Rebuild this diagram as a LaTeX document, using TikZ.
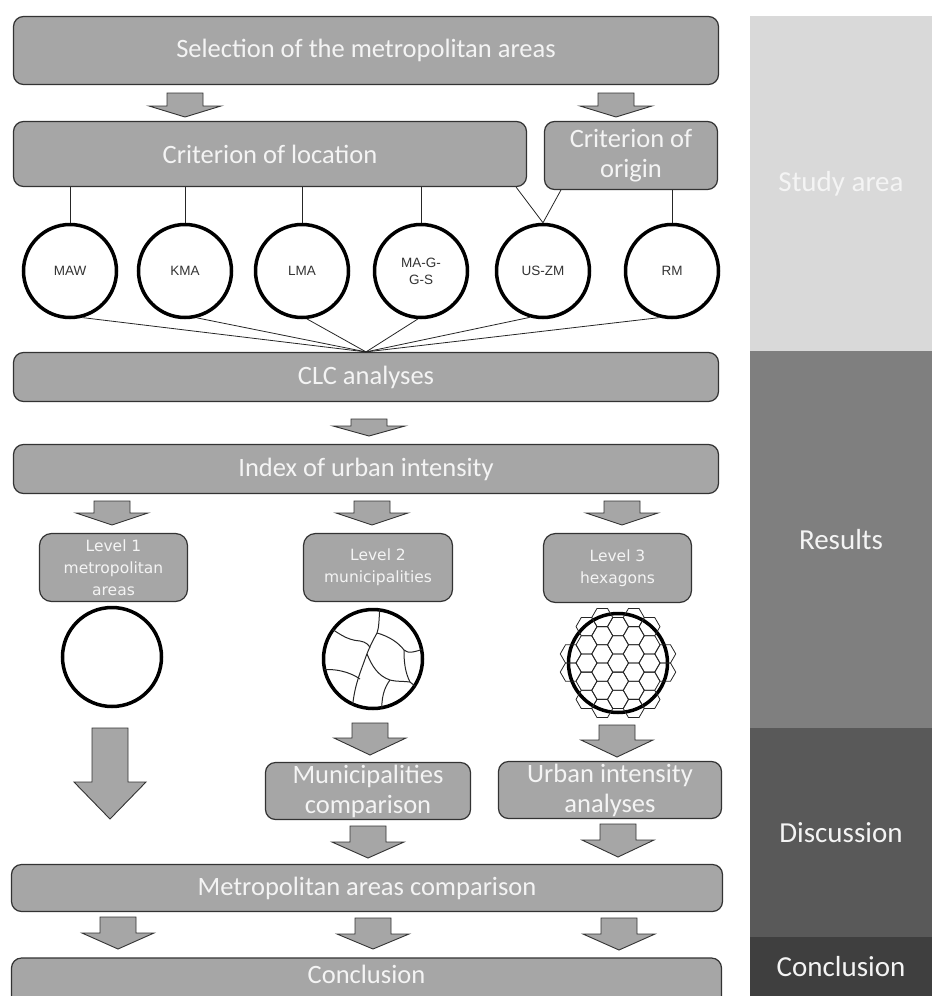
\documentclass[tikz,border=0pt]{standalone}
\usepackage{fontspec}
\setmainfont{Carlito}
\newfontfamily\circfont{Liberation Sans}
\newfontfamily\levelfont{DejaVu Sans}
\usepackage{xcolor}
\usepackage{tikz}
\usetikzlibrary{calc}

\definecolor{boxgray}{HTML}{A6A6A6}
\definecolor{boxtext}{HTML}{F4F4F4}
\definecolor{edgegray}{HTML}{333333}
\definecolor{studygray}{HTML}{D9D9D9}
\definecolor{resultsgray}{HTML}{7F7F7F}
\definecolor{discgray}{HTML}{595959}
\definecolor{conclgray}{HTML}{3F3F3F}

\tikzset{
  stagebox/.style={draw=edgegray, line width=1.2pt, fill=boxgray, rounded corners=10pt,
    text=boxtext, inner sep=0pt, align=center, font=\fontsize{26.5}{30}\selectfont},
  levelbox/.style={stagebox, rounded corners=12pt, font=\levelfont\fontsize{15.5}{22}\selectfont},
  areacircle/.style={circle, draw=black, line width=3.5pt, minimum size=93pt, inner sep=0pt,
    align=center, font=\circfont\fontsize{13.5}{17}\selectfont, text=black!80},
  levelcircle/.style={circle, draw=black, line width=3.5pt, minimum size=99pt, inner sep=0pt},
  phase/.style={inner sep=0pt, text=boxtext, minimum width=182pt, font=\fontsize{29}{32}\selectfont},
  arrowbody/.style={draw=edgegray, line width=0.9pt, fill=boxgray},
  thinline/.style={line width=0.8pt, draw=black!85},
  cellline/.style={line width=1pt, draw=black!85},
  pics/fatarrow/.style 2 args={code={
    \draw[arrowbody] (-18,0) -- (18,0) -- (18,#1) -- (36,#1) -- (0,#2) -- (-36,#1) -- (-18,#1) -- cycle;
  }},
}

\begin{document}
\begin{tikzpicture}[x=1pt, y=-1pt]
    \useasboundingbox (0,0) rectangle (932,996);
    \clip (0,0) rectangle (932,996);

    % phases on the right
    \node[phase, fill=studygray, minimum height=335pt] (study) at (841,183.5) {Study area};
    \node[phase, fill=resultsgray, minimum height=377pt] (results) at (841,539.5) {Results};
    \node[phase, fill=discgray, minimum height=209pt] (discussion) at (841,832.5) {Discussion};
    \node[phase, fill=conclgray, minimum height=59pt] (conclusion) at (841,966.5) {Conclusion};

    % study area
    \node[stagebox, minimum width=705pt, minimum height=68pt] (sel) at (366,50.5) {Selection of the metropolitan areas};
    \pic at (185,93) {fatarrow={13}{24}};
    \pic at (616,93) {fatarrow={13}{24}};
    \node[stagebox, minimum width=513pt, minimum height=65pt] (loc) at (270,154) {Criterion of location};
    \node[stagebox, minimum width=173pt, minimum height=68pt] (orig) at (631,155.5) {Criterion of\\origin};

    \node[areacircle] (maw) at (70,271) {MAW};
    \node[areacircle] (kma) at (185,271) {KMA};
    \node[areacircle] (lma) at (302,271) {LMA};
    \node[areacircle] (maggs) at (421,271) {MA-G-\\G-S};
    \node[areacircle] (uszm) at (543,271) {US-ZM};
    \node[areacircle] (rm) at (672,271) {RM};

    \draw[thinline] (maw.north |- loc.south) -- (maw.north);
    \draw[thinline] (kma.north |- loc.south) -- (kma.north);
    \draw[thinline] (lma.north |- loc.south) -- (lma.north);
    \draw[thinline] (maggs.north |- loc.south) -- (maggs.north);
    \draw[thinline] ($(loc.south east)+(-11,0)$) -- (uszm.north);
    \draw[thinline] ($(orig.south west)+(17,0)$) -- (uszm.north);
    \draw[thinline] (rm.north |- orig.south) -- (rm.north);

    \node[stagebox, minimum width=705pt, minimum height=49pt] (clc) at (366,377) {CLC analyses};
    \draw[thinline] (maw.-75) -- (clc.north);
    \draw[thinline] (kma.-76) -- (clc.north);
    \draw[thinline] (lma.-84) -- (clc.north);
    \draw[thinline] (maggs.-94) -- (clc.north);
    \draw[thinline] (uszm.-106) -- (clc.north);
    \draw[thinline] (rm.-105) -- (clc.north);

    % results
    \pic at (369,419) {fatarrow={7}{17}};
    \node[stagebox, minimum width=705pt, minimum height=49pt] (idx) at (366,469) {Index of urban intensity};
    \pic at (112,501) {fatarrow={12}{24}};
    \pic at (372,501) {fatarrow={12}{24}};
    \pic at (622,501) {fatarrow={12}{24}};

    \node[levelbox, minimum width=148pt, minimum height=68pt] (lev1) at (113.5,567.5) {Level 1\\metropolitan\\areas};
    \node[levelbox, minimum width=149pt, minimum height=68pt] (lev2) at (378,567.5) {Level 2\\municipalities};
    \node[levelbox, minimum width=148pt, minimum height=69pt] (lev3) at (617.5,568) {Level 3\\hexagons};

    \node[levelcircle] (circ1) at (112,657) {};
    \node[levelcircle] (circ2) at (373,659) {};
    \begin{scope}
        \clip (circ2.center) circle (50);
        \draw[cellline] (380,604) .. controls (379,620) and (379,628) .. (377,633)
            .. controls (372,642) and (368,650) .. (364,662)
            .. controls (358,678) and (353,692) .. (352,714);
        \draw[cellline] (325,625) .. controls (338,632) and (345,640) .. (360,641)
            .. controls (366,642) and (369,645) .. (370,648);
        \draw[cellline] (377,633) .. controls (388,636) and (398,642) .. (404,650)
            .. controls (408,654) and (415,652) .. (426,648);
        \draw[cellline] (404,650) .. controls (404,662) and (405,672) .. (410,682)
            .. controls (415,686) and (420,690) .. (426,696);
        \draw[cellline] (320,670) .. controls (335,668) and (350,672) .. (360,679);
        \draw[cellline] (367,654) .. controls (372,666) and (378,676) .. (390,680)
            .. controls (398,682) and (404,681) .. (410,682);
        \draw[cellline] (390,680) .. controls (384,688) and (381,698) .. (382,714);
    \end{scope}

    \node[levelcircle] (circ3) at (618,663) {};
    \foreach \i in {-4,...,4}{
        \foreach \j in {-4,...,4}{
            \pgfmathsetmacro\hx{15.75*\i}
            \pgfmathsetmacro\hy{18.19*\j+9.09*mod(abs(\i),2)}
            \pgfmathsetmacro\hd{sqrt(\hx*\hx+\hy*\hy)}
            \ifdim\hd pt<50pt
                \draw[cellline, line width=0.8pt] ($(circ3.center)+(\hx,\hy)$) +(0:10.5) -- +(60:10.5) -- +(120:10.5)
                    -- +(180:10.5) -- +(240:10.5) -- +(300:10.5) -- cycle;
            \fi
        }
    }

    % discussion
    \pic at (110,728) {fatarrow={54}{91}};
    \pic at (370,723) {fatarrow={15}{32}};
    \pic at (617,725) {fatarrow={15}{32}};
    \node[stagebox, minimum width=205pt, minimum height=57pt] (mcomp) at (368,791) {Municipalities\\comparison};
    \node[stagebox, minimum width=223pt, minimum height=57pt] (ucomp) at (610,790) {Urban intensity\\analyses};
    \pic at (368,826) {fatarrow={16}{32}};
    \pic at (618,824) {fatarrow={16}{33}};
    \node[stagebox, minimum width=711pt, minimum height=47pt] (macomp) at (367,888) {Metropolitan areas comparison};

    % conclusion
    \pic at (118,917) {fatarrow={16}{32}};
    \pic at (373,918) {fatarrow={16}{31}};
    \pic at (619,918) {fatarrow={16}{32}};
    \node[stagebox, minimum width=710pt, minimum height=54pt, text depth=22pt] (concl) at (366.5,985) {Conclusion};
\end{tikzpicture}
\end{document}
